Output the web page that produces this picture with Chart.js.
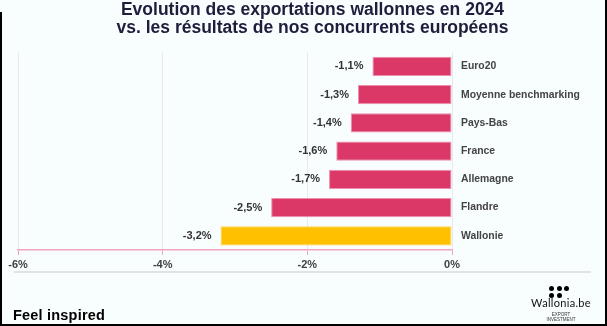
<!DOCTYPE html>
<html>
<head>
<meta charset="utf-8">
<script src="https://cdn.jsdelivr.net/npm/chart.js@4/dist/chart.umd.min.js"></script>
<style>
  html, body { margin: 0; padding: 0; }
  body { width: 607px; height: 326px; position: relative; overflow: hidden; background: #f8fdfe; font-family: "Liberation Sans", Arial, sans-serif; }
  #frameL { position: absolute; left: 0; top: 12px; width: 2px; bottom: 0; background: #000; }
  #frameR { position: absolute; right: 0; top: 0; width: 2px; bottom: 0; background: #000; }
  #frameB { position: absolute; left: 0; right: 0; bottom: 0; height: 2px; background: #000; }
  #sep { position: absolute; left: 14px; top: 271px; width: 577px; height: 2px; background: #e1e2e4; }
  #chartBox { position: absolute; left: 0; top: 0; width: 607px; height: 326px; }
  #feel { position: absolute; left: 13px; top: 307px; font: bold 14.5px "Liberation Sans", Arial, sans-serif; letter-spacing: 0.2px; color: #000; }
  .dot { position: absolute; width: 5px; height: 5px; border-radius: 50%; background: #000; }
  #brand { position: absolute; left: 521px; width: 80px; top: 297px; text-align: center; font: 11px Lato, "Liberation Sans", sans-serif; line-height: 12px; letter-spacing: 0.3px; color: #111; }
  #small { position: absolute; left: 521px; width: 80px; top: 313px; text-align: center; font: 4.5px "Liberation Sans", sans-serif; line-height: 4.5px; color: #333; }
</style>
</head>
<body>
<div id="sep"></div>
<div id="chartBox"><canvas id="expChart"></canvas></div>
<div id="feel">Feel inspired</div>
<div class="dot" style="left:549px;top:286px"></div>
<div class="dot" style="left:556.5px;top:286px"></div>
<div class="dot" style="left:564px;top:286px"></div>
<div class="dot" style="left:549px;top:292.5px"></div>
<div class="dot" style="left:556.5px;top:292.5px"></div>
<div id="brand">Wallonia.be</div>
<div id="small">EXPORT<br>INVESTMENT</div>
<div id="frameL"></div>
<div id="frameR"></div>
<div id="frameB"></div>
<script>
const categories = ['Euro20', 'Moyenne benchmarking', 'Pays-Bas', 'France', 'Allemagne', 'Flandre', 'Wallonie'];
const growth = [-1.1, -1.3, -1.4, -1.6, -1.7, -2.5, -3.2];
const highlight = 'Wallonie';
const xTicks = [-6, -4, -2, 0];
const titleLines = ['Evolution des exportations wallonnes en 2024', 'vs. les résultats de nos concurrents européens'];

const pink = '#db3868';
const gold = '#ffc000';

const fmt = v => v.toFixed(1).replace('.', ',') + '%';

const valueLabels = {
    id: 'valueLabels',
    afterDatasetsDraw(chart) {
        const ctx = chart.ctx;
        const meta = chart.getDatasetMeta(0);
        ctx.save();
        ctx.font = 'bold 11px "Liberation Sans", Arial, sans-serif';
        ctx.fillStyle = '#333333';
        ctx.textAlign = 'right';
        ctx.textBaseline = 'middle';
        meta.data.forEach((bar, i) => {
            ctx.fillText(fmt(growth[i]), bar.x - 9, bar.y);
        });
        ctx.restore();
    }
};

const ctx = document.getElementById('expChart').getContext('2d');
new Chart(ctx, {
    type: 'bar',
    data: {
        labels: categories,
        datasets: [{
            data: growth,
            backgroundColor: categories.map(c => c === highlight ? gold : pink),
            borderColor: categories.map(c => c === highlight ? '#ffd24d' : '#ee8fb0'),
            borderWidth: 1,
            borderSkipped: false,
            barPercentage: 0.68,
            categoryPercentage: 1
        }]
    },
    options: {
        indexAxis: 'y',
        responsive: true,
        maintainAspectRatio: false,
        animation: false,
        layout: { padding: { left: 18, right: 0, top: 0, bottom: 0 } },
        plugins: {
            legend: { display: false },
            tooltip: { enabled: false },
            title: {
                display: true,
                text: titleLines,
                color: '#1f1d3b',
                font: { family: '"Liberation Sans", Arial, sans-serif', size: 17.5, weight: 'bold', lineHeight: 0.98 },
                padding: { top: 2, bottom: 16 }
            }
        },
        scales: {
            x: {
                min: xTicks[0],
                max: xTicks[xTicks.length - 1],
                afterBuildTicks: scale => { scale.ticks = xTicks.map(v => ({ value: v })); },
                afterFit: scale => { scale.height = 76; },
                grid: {
                    color: '#e8e8ee',
                    tickColor: '#f4a3be',
                    tickLength: 5,
                    lineWidth: 1
                },
                border: { color: '#f4a3be', width: 1.5 },
                ticks: {
                    padding: 3,
                    color: '#404040',
                    font: { family: '"Liberation Sans", Arial, sans-serif', size: 11, weight: 'bold' },
                    callback: v => v + '%'
                }
            },
            y: {
                position: 'right',
                afterFit: scale => { scale.width = 155; },
                grid: { display: false, drawTicks: false },
                border: { display: false },
                ticks: {
                    padding: 9,
                    color: '#444444',
                    font: { family: '"Liberation Sans", Arial, sans-serif', size: 10.4, weight: 'bold' }
                }
            }
        }
    },
    plugins: [valueLabels]
});
</script>
</body>
</html>
